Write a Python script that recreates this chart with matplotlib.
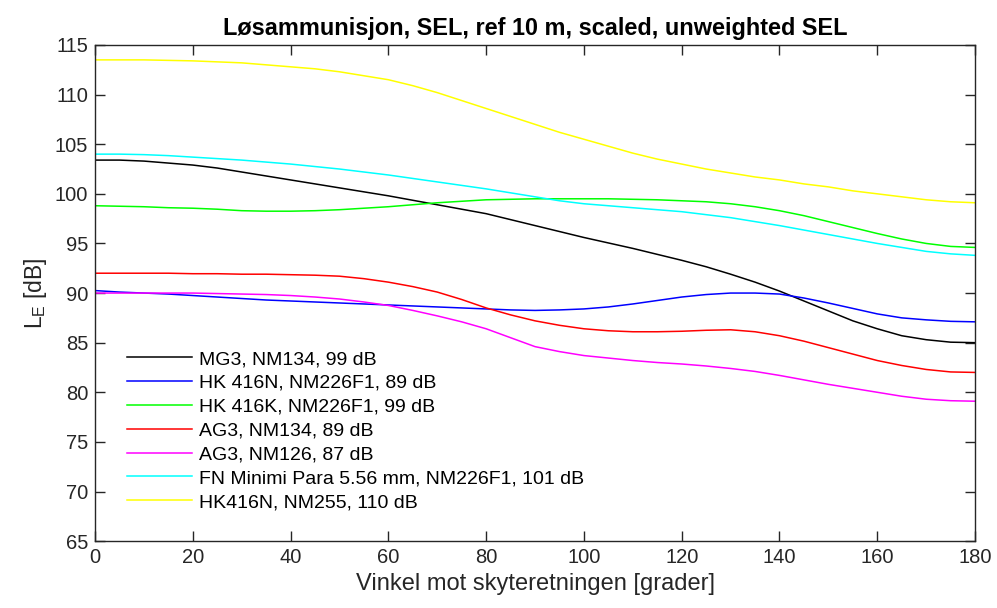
import numpy as np
import matplotlib.pyplot as plt

plt.rcParams['font.family'] = ['Liberation Sans', 'DejaVu Sans']

angle = np.arange(0, 181, 5)

mg3_nm134 = [103.4, 103.4, 103.3, 103.1, 102.9, 102.6, 102.2, 101.8, 101.4, 101.0,
             100.6, 100.2, 99.8, 99.35, 98.9, 98.45, 98.0, 97.4, 96.8, 96.2,
             95.6, 95.05, 94.5, 93.9, 93.3, 92.65, 91.9, 91.1, 90.2, 89.2,
             88.2, 87.2, 86.4, 85.7, 85.3, 85.05, 85.0]
hk416n_nm226 = [90.25, 90.1, 90.0, 89.9, 89.75, 89.6, 89.45, 89.3, 89.2, 89.1,
                89.0, 88.9, 88.8, 88.7, 88.6, 88.5, 88.4, 88.3, 88.25, 88.3,
                88.4, 88.6, 88.9, 89.25, 89.6, 89.85, 90.0, 90.0, 89.9, 89.5,
                89.0, 88.45, 87.9, 87.5, 87.3, 87.15, 87.1]
hk416k_nm226 = [98.8, 98.75, 98.7, 98.6, 98.55, 98.45, 98.3, 98.25, 98.25, 98.3,
                98.4, 98.55, 98.7, 98.9, 99.1, 99.25, 99.4, 99.45, 99.5, 99.5,
                99.5, 99.5, 99.45, 99.4, 99.3, 99.2, 99.0, 98.7, 98.3, 97.8,
                97.2, 96.6, 96.0, 95.45, 95.0, 94.7, 94.6]
ag3_nm134 = [92.0, 92.0, 92.0, 92.0, 91.95, 91.95, 91.9, 91.9, 91.85, 91.8,
             91.7, 91.45, 91.1, 90.65, 90.1, 89.35, 88.5, 87.8, 87.2, 86.75,
             86.4, 86.2, 86.1, 86.1, 86.15, 86.25, 86.3, 86.1, 85.7, 85.15,
             84.5, 83.85, 83.2, 82.7, 82.3, 82.05, 82.0]
ag3_nm126 = [90.0, 90.0, 90.0, 90.0, 90.0, 89.95, 89.9, 89.85, 89.75, 89.6,
             89.4, 89.1, 88.75, 88.25, 87.7, 87.1, 86.4, 85.5, 84.6, 84.1,
             83.7, 83.45, 83.2, 83.0, 82.85, 82.65, 82.4, 82.1, 81.7, 81.25,
             80.8, 80.4, 80.0, 79.6, 79.3, 79.15, 79.1]
minimi_nm226 = [104.0, 104.0, 103.95, 103.85, 103.7, 103.55, 103.4, 103.2, 103.0, 102.75,
                102.5, 102.2, 101.9, 101.55, 101.2, 100.85, 100.5, 100.1, 99.7, 99.3,
                99.0, 98.8, 98.6, 98.4, 98.2, 97.9, 97.6, 97.2, 96.8, 96.35,
                95.9, 95.45, 95.0, 94.6, 94.2, 93.95, 93.8]
hk416n_nm255 = [113.5, 113.5, 113.5, 113.45, 113.4, 113.3, 113.2, 113.0, 112.8, 112.6,
                112.3, 111.9, 111.5, 110.9, 110.2, 109.4, 108.6, 107.8, 107.0, 106.2,
                105.5, 104.8, 104.1, 103.5, 103.0, 102.5, 102.1, 101.7, 101.4, 101.0,
                100.7, 100.3, 100.0, 99.7, 99.4, 99.2, 99.1]

labels = ['MG3, NM134, 99 dB', 'HK 416N, NM226F1, 89 dB', 'HK 416K, NM226F1, 99 dB',
          'AG3, NM134, 89 dB', 'AG3, NM126, 87 dB',
          'FN Minimi Para 5.56 mm, NM226F1, 101 dB', 'HK416N, NM255, 110 dB']
colors = [(0, 0, 0), (0, 0, 1), (0, 1, 0), (1, 0, 0), (1, 0, 1), (0, 1, 1), (1, 1, 0)]
series = [mg3_nm134, hk416n_nm226, hk416k_nm226, ag3_nm134, ag3_nm126,
          minimi_nm226, hk416n_nm255]

fig = plt.figure(figsize=(9.97, 6.08), dpi=100)
ax = fig.add_axes([0.0953, 0.110, 0.8827, 0.816])

for y, c, lab in zip(series, colors, labels):
    ax.plot(angle, y, color=c, lw=1.1, label=lab)

ax.set_xlim(0, 180)
ax.set_ylim(65, 115)
ax.set_xticks(np.arange(0, 181, 20))
ax.set_yticks(np.arange(65, 116, 5))
ax.tick_params(direction='in', length=7, width=1, top=True, right=True,
               labelsize=14.5, colors='#262626', pad=5)
for s in ax.spines.values():
    s.set_color('#262626')
    s.set_linewidth(1)

ax.set_xlabel('Vinkel mot skyteretningen [grader]', fontsize=17, color='#262626')
ax.set_ylabel('L$_\\mathregular{E}$ [dB]', fontsize=16.5, color='#262626')
ax.set_title('Løsammunisjon, SEL, ref 10 m, scaled, unweighted SEL',
             fontsize=16.9, fontweight='bold', pad=7)

ax.legend(loc='lower left', bbox_to_anchor=(0.028, 0.045), frameon=False,
          fontsize=14, handlelength=3.3, handletextpad=0.4, labelspacing=0.32,
          borderaxespad=0)

fig.savefig('out.png', dpi=100)
